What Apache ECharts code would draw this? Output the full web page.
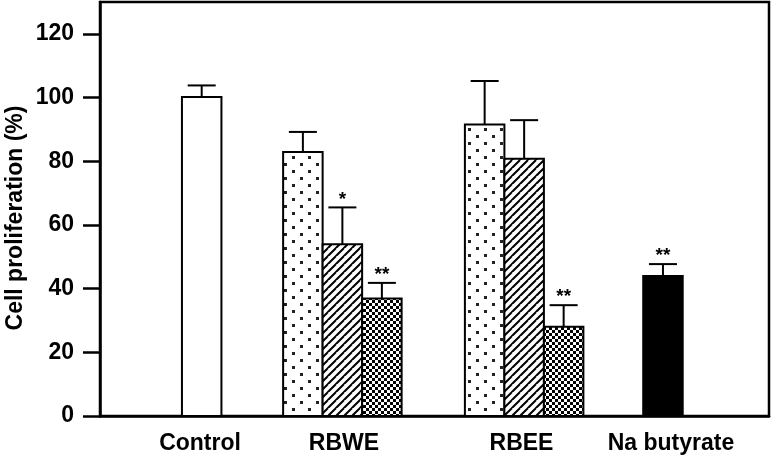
<!DOCTYPE html>
<html>
<head>
<meta charset="utf-8">
<script src="https://cdn.jsdelivr.net/npm/echarts@6/dist/echarts.min.js"></script>
<style>
html,body{margin:0;padding:0;background:#fff;}
#chart{width:776px;height:458px;}
</style>
</head>
<body>
<div id="chart"></div>
<script>
// ---- data ----
const categories = ['Control', 'RBWE', 'RBEE', 'Na butyrate'];
const controlMean = [100.2];
const controlSD = [3.6];
const controlSig = [''];
const rbweMean = [82.9, 53.9, 36.9];
const rbweSD = [6.3, 11.6, 4.9];
const rbweSig = ['', '*', '**'];
const rbeeMean = [91.5, 80.8, 28.0];
const rbeeSD = [13.7, 12.1, 6.8];
const rbeeSig = ['', '', '**'];
const naMean = [44.0];
const naSD = [3.7];
const naSig = ['**'];
const yTicks = [0, 20, 40, 60, 80, 100, 120];

// ---- layout (x-axis units 0..100) ----
const groupCenters = [15.2, 36.23, 63.4, 84.15];
const labelCenters = [14.95, 36.47, 63.0, 85.35];
const BAR_W = 39.5, CAP_W = 28;
const FONT = '"Liberation Sans", Arial, Helvetica, sans-serif';

// ---- patterns ----
function makeTile(w, h, draw) {
  const c = document.createElement('canvas');
  c.width = w; c.height = h;
  const g = c.getContext('2d');
  g.fillStyle = '#fff'; g.fillRect(0, 0, w, h);
  g.fillStyle = '#000'; g.strokeStyle = '#000';
  draw(g);
  return { image: c, repeat: 'repeat' };
}
const patterns = {
  white: '#ffffff',
  black: '#000000',
  dots: makeTile(16, 14, g => { g.fillStyle = '#222'; g.fillRect(4, 2, 3, 3); g.fillRect(12, 9, 3, 3); }),
  hatch: makeTile(8, 8, g => {
    g.lineWidth = 2;
    g.beginPath();
    g.moveTo(-8, 8); g.lineTo(0, 0);
    g.moveTo(0, 8); g.lineTo(8, 0);
    g.moveTo(8, 8); g.lineTo(16, 0);
    g.moveTo(-8, 16); g.lineTo(8, 0);
    g.moveTo(0, 16); g.lineTo(16, 0);
    g.stroke();
  }),
  checker: makeTile(6, 6, g => { g.fillRect(0, 0, 3, 3); g.fillRect(3, 3, 3, 3); })
};

// ---- build bar items: [xCenter, mean, sd, slot] ----
const items = [];
const itemPattern = [];
const itemSig = [];
function addGroup(g, means, sds, sigs, pats, slots) {
  means.forEach((m, i) => {
    items.push([groupCenters[g], m, sds[i], slots[i]]);
    itemPattern.push(pats[i]);
    itemSig.push(sigs[i]);
  });
}
addGroup(0, controlMean, controlSD, controlSig, ['white'], [0]);
addGroup(1, rbweMean, rbweSD, rbweSig, ['dots', 'hatch', 'checker'], [-1, 0, 1]);
addGroup(2, rbeeMean, rbeeSD, rbeeSig, ['dots', 'hatch', 'checker'], [-1, 0, 1]);
addGroup(3, naMean, naSD, naSig, ['black'], [0]);

function renderItem(params, api) {
  const x = api.value(0), m = api.value(1), sd = api.value(2), slot = api.value(3);
  const top = api.coord([x, m]);
  const base = api.coord([x, 0]);
  const err = api.coord([x, m + sd]);
  const cx = top[0] + slot * BAR_W;
  const idx = params.dataIndex;
  const children = [
    { type: 'line', shape: { x1: cx, y1: top[1], x2: cx, y2: err[1] }, style: { stroke: '#000', lineWidth: 2 } },
    { type: 'line', shape: { x1: cx - CAP_W / 2, y1: err[1], x2: cx + CAP_W / 2, y2: err[1] }, style: { stroke: '#000', lineWidth: 2 } },
    { type: 'rect', shape: { x: cx - BAR_W / 2, y: top[1], width: BAR_W, height: base[1] - top[1] },
      style: { fill: patterns[itemPattern[idx]], stroke: '#000', lineWidth: 2 } }
  ];
  if (itemSig[idx]) {
    children.push({ type: 'text', x: cx, y: err[1] - 8,
      style: { text: itemSig[idx], fill: '#000', font: 'bold 19px ' + FONT, align: 'center', verticalAlign: 'middle' } });
  }
  return { type: 'group', children };
}

function nearestLabel(v) {
  let best = 0;
  labelCenters.forEach((c, i) => { if (Math.abs(c - v) < Math.abs(labelCenters[best] - v)) best = i; });
  return categories[best];
}

const chart = echarts.init(document.getElementById('chart'), null, { renderer: 'canvas' });
chart.setOption({
  animation: false,
  backgroundColor: '#fff',
  grid: { left: 100, right: 7, top: 2, bottom: 42, containLabel: false, outerBoundsMode: 'none',
          show: true, borderColor: '#000', borderWidth: 2.5, backgroundColor: 'transparent' },
  xAxis: {
    type: 'value', min: 0, max: 100,
    splitLine: { show: false },
    axisLine: { show: true, onZero: false, lineStyle: { color: '#000', width: 2.5 } },
    axisTick: { show: false },
    axisLabel: {
      customValues: labelCenters,
      formatter: v => nearestLabel(v),
      margin: 16, color: '#000', fontFamily: FONT, fontWeight: 'bold', fontSize: 23
    }
  },
  yAxis: {
    type: 'value', min: 0, max: 130,
    name: 'Cell proliferation (%)', nameLocation: 'middle', nameGap: 73, nameMoveOverlap: false,
    nameTextStyle: { color: '#000', fontFamily: FONT, fontWeight: 'bold', fontSize: 23, padding: [0, 18, 0, 0] },
    splitLine: { show: false },
    axisLine: { show: true, lineStyle: { color: '#000', width: 2.5 } },
    axisTick: { show: true, inside: false, length: 17, customValues: yTicks, lineStyle: { color: '#000', width: 2.5 } },
    axisLabel: { customValues: yTicks, margin: 26, color: '#000', fontFamily: FONT, fontWeight: 'bold', fontSize: 23 }
  },
  series: [{
    type: 'custom',
    renderItem: renderItem,
    data: items,
    encode: { x: 0, y: 1 },
    clip: false
  }]
});
</script>
</body>
</html>
